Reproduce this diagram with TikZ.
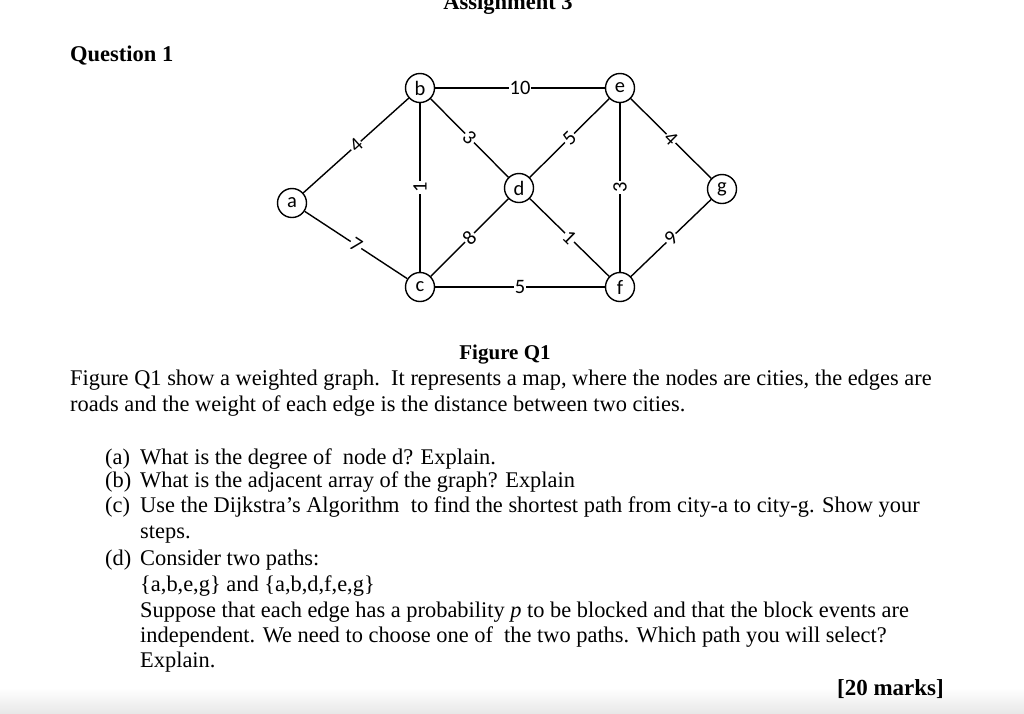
\documentclass[tikz,border=0pt]{standalone}
\usepackage{fontspec}
\setmainfont{Liberation Serif}
\newfontfamily\graphfont{Carlito}
\usetikzlibrary{positioning}

\begin{document}
\begin{tikzpicture}[x=1pt, y=-1pt,
  city/.style={circle, draw, line width=1.4pt, minimum size=29pt, inner sep=0pt,
    font=\graphfont\fontsize{20.5}{20.5}\selectfont},
  road/.style={line width=1.4pt},
  wt/.style={fill=white, inner sep=1pt, font=\graphfont\fontsize{20.5}{20.5}\selectfont},
  body/.style={anchor=base west, inner sep=0pt, font=\fontsize{22.4}{26}\selectfont},
  head/.style={inner sep=0pt, font=\bfseries\fontsize{22.5}{26}\selectfont}]
  \useasboundingbox (0,0) rectangle (1024,713);
  %% Page shadow at the bottom
  \shade[top color=white, bottom color=gray!18] (0,688) rectangle (1024,713);
  %% Headings
  \node[head, anchor=base] (title) at (508,9) {Assignment 3};
  \node[head, anchor=base west] (qone) at (70,61) {Question 1};
  %% Cities
  \node[city] (a) at (292,203) {a};
  \node[city] (b) at (420,88) {b};
  \node[city] (c) at (420,287) {c};
  \node[city] (d) at (519,188) {d};
  \node[city] (e) at (620,88) {e};
  \node[city] (f) at (620,287) {f};
  \node[city] (g) at (722,189) {g};
  %% Roads with distances
  \draw[road] (a) -- node[wt, sloped] {4} (b);
  \draw[road] (a) -- node[wt, sloped] {7} (c);
  \draw[road] (b) -- node[wt, rotate=90] {1} (c);
  \draw[road] (b) -- node[wt] {10} (e);
  \draw[road] (b) -- node[wt, sloped] {3} (d);
  \draw[road] (c) -- node[wt, sloped] {8} (d);
  \draw[road] (c) -- node[wt] {5} (f);
  \draw[road] (d) -- node[wt, sloped] {5} (e);
  \draw[road] (d) -- node[wt, sloped] {1} (f);
  \draw[road] (e) -- node[wt, rotate=90] {3} (f);
  \draw[road] (e) -- node[wt, sloped] {4} (g);
  \draw[road] (f) -- node[wt, sloped] {9} (g);
  %% Caption and text
  \node[head, anchor=base, font=\bfseries\fontsize{21}{24}\selectfont] (cap) at (505,359) {Figure Q1};
  \node[body] (pone) at (70,385) {Figure Q1 show a weighted graph.\ \ It represents a map, where the nodes are cities, the edges are};
  \node[body] (ptwo) at (70,411) {roads and the weight of each edge is the distance between two cities.};
  \node[body] (la) at (105,464) {(a)};
  \node[body] (ta) at (140,464) {What is the degree of\ \ node d? Explain.};
  \node[body] (lb) at (105,487) {(b)};
  \node[body] (tb) at (140,487) {What is the adjacent array of the graph? Explain};
  \node[body] (lc) at (105,512) {(c)};
  \node[body] (tc) at (140,512) {Use the Dijkstra’s Algorithm\ \ to find the shortest path from city-a to city-g. Show your};
  \node[body] (tcc) at (140,538) {steps.};
  \node[body] (ld) at (105,565) {(d)};
  \node[body] (td) at (140,565) {Consider two paths:};
  \node[body] (tdpath) at (140,591) {\{a,b,e,g\} and \{a,b,d,f,e,g\}};
  \node[body] (tdone) at (140,617) {Suppose that each edge has a probability \textit{p} to be blocked and that the block events are};
  \node[body] (tdtwo) at (140,642) {independent. We need to choose one of\ \ the two paths. Which path you will select?};
  \node[body] (tdthree) at (140,667) {Explain.};
  \node[head, anchor=base east, font=\bfseries\fontsize{23}{26}\selectfont] (marks) at (944,695) {[20 marks]};
\end{tikzpicture}
\end{document}
